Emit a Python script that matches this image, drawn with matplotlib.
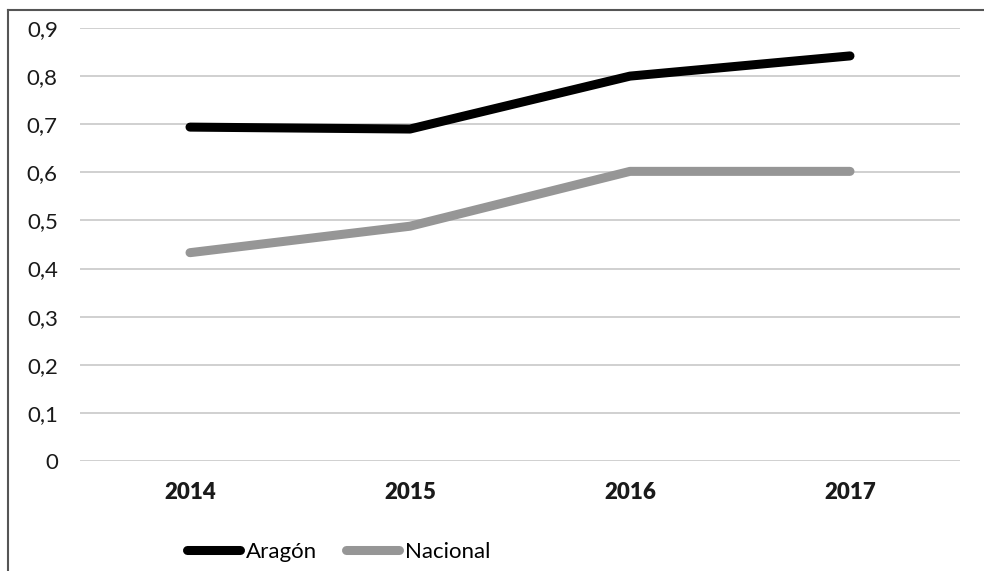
#!/usr/bin/env python3

import numpy as np
from matplotlib import pyplot as plt
from matplotlib.lines import Line2D

years = ['2014', '2015', '2016', '2017']
aragon = [0.694, 0.690, 0.800, 0.842]
nacional = [0.433, 0.488, 0.602, 0.602]
y_ticks = [0, 0.1, 0.2, 0.3, 0.4, 0.5, 0.6, 0.7, 0.8, 0.9]
y_labels = ['0', '0,1', '0,2', '0,3', '0,4', '0,5', '0,6', '0,7', '0,8', '0,9']

plt.rcParams['font.family'] = ['Lato', 'DejaVu Sans']

fig = plt.figure(figsize=(9.84, 5.71), dpi=100)
ax = fig.add_axes([80 / 984, 110 / 571, 880 / 984, 433 / 571])

x = np.arange(len(years))
ax.plot(x, aragon, color='#000000', linewidth=6.5, solid_capstyle='round', label='Aragón')
ax.plot(x, nacional, color='#969696', linewidth=6.5, solid_capstyle='round', label='Nacional')

# axes setup
ax.set_xlim(-0.5, len(years) - 0.5)
ax.set_ylim(0, 0.9)
ax.set_yticks(y_ticks)
ax.set_yticklabels(y_labels, fontsize=16, color='#1a1a1a')
ax.set_xticks(x)
ax.set_xticklabels(years, fontsize=16, fontweight='heavy', color='#1a1a1a')
ax.tick_params(axis='y', length=0, pad=16)
ax.tick_params(axis='x', length=0, pad=15)
ax.grid(axis='y', color='#c8c8c8', linewidth=1.2)
ax.set_axisbelow(True)
for s in ax.spines.values():
    s.set_visible(False)

# outer border (left and top only)
fig.add_artist(Line2D([8 / 984, 8 / 984], [0, 1 - 10 / 571], color='#555555', linewidth=1.5))
fig.add_artist(Line2D([8 / 984, 1], [1 - 10 / 571, 1 - 10 / 571], color='#555555', linewidth=1.5))

fig.legend(loc='center left', bbox_to_anchor=(176 / 984, 1 - 552 / 571), ncol=2, frameon=False,
           fontsize=16, handlelength=2.4, handletextpad=0.25, columnspacing=1.3, borderpad=0)

fig.savefig('out.png', dpi=100)
